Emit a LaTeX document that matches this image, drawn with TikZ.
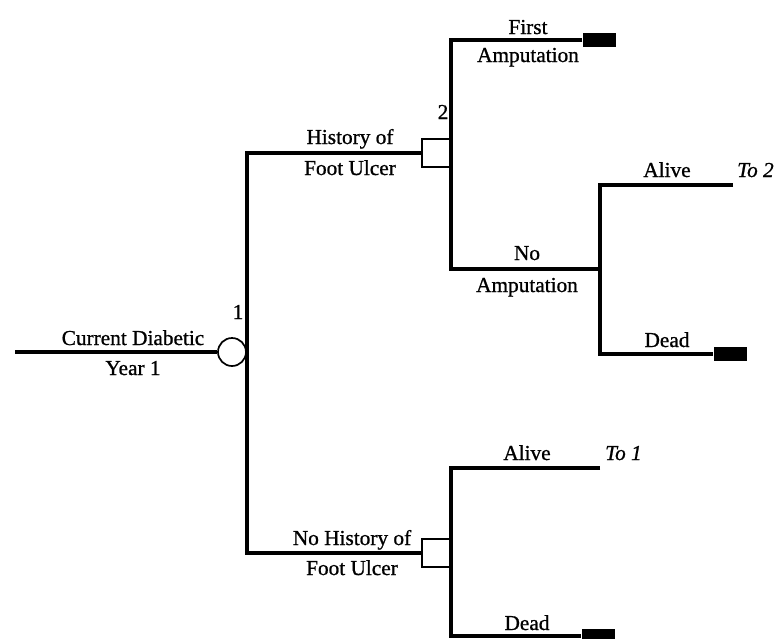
\documentclass[tikz,border=0pt]{standalone}
\usepackage{fontspec}
\setmainfont{Liberation Serif}
\newfontfamily\heavyserif{Liberation Serif}[FakeBold=0.9]
\begin{document}
\begin{tikzpicture}[x=1pt,y=-1pt,
 br/.style={line width=3.2pt,line join=miter},
 lbl/.style={font=\heavyserif\fontsize{21.3}{23}\selectfont,inner sep=0pt,text height=14pt,text depth=0pt},
 itl/.style={lbl,font=\heavyserif\fontsize{21.3}{23}\selectfont\itshape,anchor=west},
 chance/.style={circle,draw,line width=1.7pt,minimum size=28pt,inner sep=0pt,fill=white},
 decision/.style={rectangle,draw,line width=1.7pt,minimum size=28pt,inner sep=0pt,fill=white},
 term/.style={rectangle,fill=black,minimum width=33pt,minimum height=14pt,inner sep=0pt}]
\useasboundingbox (0,0) rectangle (775,638);
% decision / chance / terminal nodes
\node[chance] (c1) at (232,352) {};
\node[decision] (s2) at (436,153) {};
\node[decision] (s3) at (436,553) {};
\node[term] (t1) at (599,40) {};
\node[term] (t2) at (730,354) {};
\node[term] (t3) at (598,636) {};
% junction coordinates
\coordinate (start) at (15,352);
\coordinate (j1top) at (247,153);
\coordinate (j1bot) at (247,553);
\coordinate (v2top) at (451,40);
\coordinate (v2bot) at (451,269);
\coordinate (n2) at (600,269);
\coordinate (v3top) at (600,185);
\coordinate (v3bot) at (600,354);
\coordinate (a2end) at (733,185);
\coordinate (a1end) at (600,468);
\coordinate (v4top) at (451,468);
\coordinate (v4bot) at (451,636);
% branches
\draw[br] (start) -- (c1);
\draw[br] (s2.west) -- (j1top) -- (j1bot) -- (s3.west);
\draw[br] (t1.west) -- (v2top) -- (v2bot) -- (n2);
\draw[br] (a2end) -- (v3top) -- (v3bot) -- (t2.west);
\draw[br] (a1end) -- (v4top) -- (v4bot) -- (t3.west);
% labels
\node[lbl] (l1) at (133,338) {Current Diabetic};
\node[lbl] (l2) at (133,368) {Year 1};
\node[lbl] (n1) at (238,312) {1};
\node[lbl] (l3) at (350,137) {History of};
\node[lbl] (l4) at (350,168) {Foot Ulcer};
\node[lbl] (nn2) at (443,112) {2};
\node[lbl] (l5) at (528,27) {First};
\node[lbl] (l6) at (528,55) {Amputation};
\node[lbl] (l7) at (527,253) {No};
\node[lbl] (l8) at (527,285) {Amputation};
\node[lbl] (l9) at (667,170) {Alive};
\node[itl] (l10) at (737,170) {To 2};
\node[lbl] (l11) at (667,340) {Dead};
\node[lbl] (l12) at (352,538) {No History of};
\node[lbl] (l13) at (352,568) {Foot Ulcer};
\node[lbl] (l14) at (527,453) {Alive};
\node[itl] (l15) at (605,453) {To 1};
\node[lbl] (l16) at (527,623) {Dead};
\end{tikzpicture}
\end{document}
